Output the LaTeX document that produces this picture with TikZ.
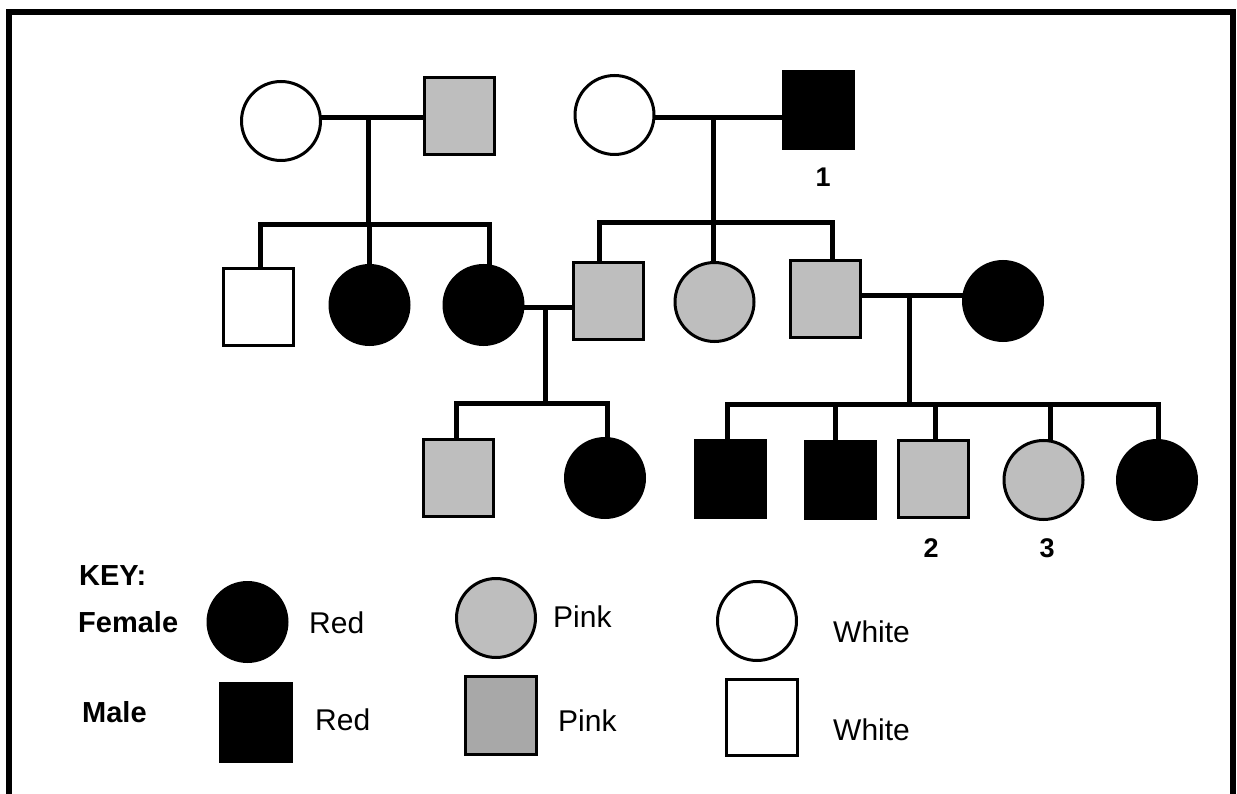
\documentclass[tikz,border=0pt]{standalone}
\usepackage{fontspec}
\setmainfont{Liberation Sans}
\begin{document}
\begin{tikzpicture}[x=1pt,y=-1pt,
  fem/.style={circle, draw=black, line width=3, minimum size=79, inner sep=0},
  mal/.style={rectangle, draw=black, line width=3, minimum width=70, minimum height=77, inner sep=0},
  wh/.style={fill=white},
  gr/.style={fill=gray75},
  bk/.style={fill=black},
  con/.style={line width=5, line cap=rect},
  lbl/.style={font=\fontsize{30}{33}\selectfont, inner sep=0, anchor=west},
  blbl/.style={font=\fontsize{29}{32}\selectfont\bfseries, inner sep=0, anchor=west},
  num/.style={font=\fontsize{27}{30}\selectfont\bfseries, inner sep=0}
]
\definecolor{gray75}{HTML}{BEBEBE}
\definecolor{keygray}{HTML}{A8A8A8}
\useasboundingbox (0,0) rectangle (1237,794);
\fill[white] (0,0) rectangle (1237,794);
% frame
\draw[line width=6] (9,794) -- (9,12) -- (1233,12) -- (1233,794);

% generation 1
\node[fem,wh] (g1f1) at (281,121) {};
\node[mal,gr] (g1m1) at (459.5,116.5) {};
\node[fem,wh] (g1f2) at (614.5,115) {};
\node[mal,bk] (g1m2) at (818.5,110) {};
\node[num] (n1) at (823,177) {1};
\coordinate (m1) at (368,118);
\coordinate (m2) at (713,118);

% generation 2
\coordinate (s1) at (368,225);
\coordinate (s2) at (713,223);
\node[mal,wh] (g2m1) at (258.5,307) {};
\node[fem,bk] (g2f1) at (369.5,305) {};
\node[fem,bk] (g2f2) at (483.5,305) {};
\node[mal,gr] (g2m2) at (608,301) {};
\node[fem,gr] (g2f3) at (714.5,302) {};
\node[mal,gr] (g2m3) at (825.5,299.5) {};
\node[fem,bk] (g2f4) at (1003,301) {};
\coordinate (m3) at (545,308);
\coordinate (m4) at (909,296);

% generation 3
\coordinate (s3) at (545,403);
\coordinate (s4) at (909,404);
\node[mal,gr] (g3m1) at (458,478) {};
\node[fem,bk] (g3f1) at (605,478) {};
\node[mal,bk] (g3m2) at (730.5,478.5) {};
\node[mal,bk] (g3m3) at (840,480) {};
\node[mal,gr] (g3m4) at (933,479) {};
\node[fem,gr] (g3f2) at (1043.5,480) {};
\node[fem,bk] (g3f3) at (1157,480) {};
\node[num] (n2) at (931,548) {2};
\node[num] (n3) at (1047,548) {3};

% connectors generation 1
\draw[con] (g1f1.east |- m1) -- (g1m1.west |- m1);
\draw[con] (g1f2.east |- m2) -- (g1m2.west |- m2);
\draw[con] (m1) -- (s1);
\draw[con] (m2) -- (s2);
% sibship 1
\draw[con] ([xshift=1.5]g2m1.north) |- (s1);
\draw[con] ([xshift=5.5]g2f2.north) |- (s1);
\draw[con] (s1 -| g2f1.north) -- (g2f1.north);
% sibship 2
\draw[con] ([xshift=-9]g2m2.north) |- (s2);
\draw[con] ([xshift=6.5]g2m3.north) |- (s2);
\draw[con] (s2) -- (s2 |- g2f3.north);
% marriages generation 2
\draw[con] (g2f2.east |- m3) -- (g2m2.west |- m3);
\draw[con] (g2m3.east |- m4) -- (g2f4.west |- m4);
\draw[con] (m3) -- (s3);
\draw[con] (m4) -- (s4);
% sibship A
\draw[con] ([xshift=-2]g3m1.north) |- (s3);
\draw[con] ([xshift=2]g3f1.north) |- (s3);
% sibship B
\draw[con] ([xshift=-3.5]g3m2.north) |- (s4);
\draw[con] ([xshift=1]g3f3.north) |- (s4);
\draw[con] (s4 -| g3m3.north) ++(-5,0) coordinate (c3) -- (c3 |- g3m3.north);
\draw[con] (s4 -| g3m4.north) ++(2,0) coordinate (c4) -- (c4 |- g3m4.north);
\draw[con] (s4 -| g3f2.north) ++(6.5,0) coordinate (c5) -- (c5 |- g3f2.north);

% key
\node[blbl] (key) at (79,576) {KEY:};
\node[blbl] (kf) at (78,622) {Female};
\node[blbl] (km) at (82,712) {Male};
\node[fem,bk] (kf1) at (247.5,622) {};
\node[lbl] (kt1) at (309,623) {Red};
\node[fem,gr] (kf2) at (496,618) {};
\node[lbl] (kt2) at (553,617) {Pink};
\node[fem,wh] (kf3) at (757,621) {};
\node[lbl] (kt3) at (833,632) {White};
\node[mal,bk,minimum width=71,minimum height=78] (km1) at (255.5,722) {};
\node[lbl] (kt4) at (315,720) {Red};
\node[mal,fill=keygray,minimum width=71,minimum height=78] (km2) at (500.5,715) {};
\node[lbl] (kt5) at (558,721) {Pink};
\node[mal,wh,minimum width=71,minimum height=76] (km3) at (761.5,717.5) {};
\node[lbl] (kt6) at (833,730) {White};
\end{tikzpicture}
\end{document}
